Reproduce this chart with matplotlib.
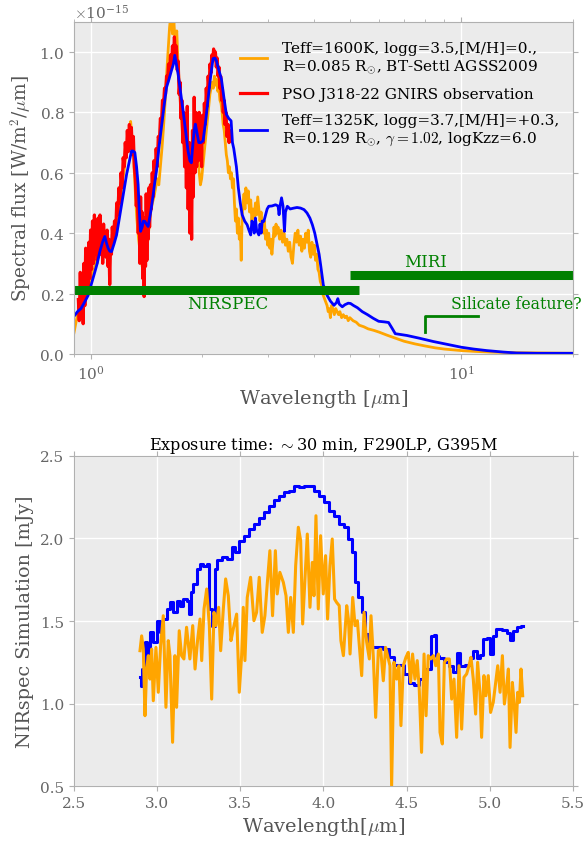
import matplotlib
matplotlib.use("Agg")
import matplotlib.pyplot as plt
import numpy as np

plt.rcParams['font.family'] = ['DejaVu Serif']
plt.rcParams['mathtext.fontset'] = 'cm'

# ---- top panel: spectra (flux in 1e-15 W/m2/um) ----
red_wl = [0.925, 0.930, 0.936, 0.942, 0.948, 0.953, 0.958, 0.963, 0.968, 0.973, 0.978, 0.983, 0.988, 0.993, 0.998,
          1.004, 1.010, 1.016, 1.022, 1.028, 1.034, 1.040, 1.046, 1.052, 1.058, 1.064, 1.070, 1.076, 1.082, 1.088,
          1.094, 1.100, 1.106, 1.112, 1.118, 1.124, 1.130, 1.136, 1.142, 1.150, 1.158, 1.166, 1.174, 1.182, 1.190,
          1.198, 1.206, 1.214, 1.222, 1.230, 1.238, 1.246, 1.254, 1.262, 1.270, 1.278, 1.286, 1.294, 1.302, 1.310,
          1.318, 1.326, 1.334, 1.342, 1.350, 1.356, 1.362, 1.368, 1.374, 1.380, 1.386, 1.392, 1.398, 1.404, 1.410,
          1.416, 1.422, 1.428, 1.434, 1.440, 1.448, 1.456, 1.464, 1.472, 1.480, 1.490, 1.500, 1.510, 1.520, 1.530,
          1.540, 1.550, 1.560, 1.570, 1.580, 1.590, 1.600, 1.610, 1.620, 1.630, 1.640, 1.650, 1.660, 1.670, 1.680,
          1.690, 1.700, 1.710, 1.720, 1.730, 1.740, 1.750, 1.760, 1.770, 1.780, 1.790, 1.800, 1.810, 1.820, 1.830,
          1.840, 1.850, 1.860, 1.870, 1.880, 1.890, 1.900, 1.910, 1.920, 1.930, 1.940, 1.950, 1.960, 1.970, 1.980,
          1.990, 2.000, 2.012, 2.024, 2.036, 2.048, 2.060, 2.072, 2.084, 2.096, 2.108, 2.120, 2.132, 2.144, 2.156,
          2.168, 2.180, 2.192, 2.204, 2.216, 2.228, 2.240, 2.252, 2.264, 2.276, 2.288, 2.300, 2.315, 2.330, 2.345,
          2.360, 2.375, 2.390]
red_flux = [0.18, 0.11, 0.27, 0.12, 0.24, 0.10, 0.30, 0.16, 0.35, 0.20, 0.31, 0.22, 0.37, 0.25, 0.41,
            0.28, 0.44, 0.30, 0.46, 0.33, 0.43, 0.31, 0.45, 0.35, 0.46, 0.33, 0.41, 0.30, 0.43, 0.36,
            0.40, 0.32, 0.41, 0.29, 0.38, 0.23, 0.37, 0.33, 0.42, 0.37, 0.44, 0.40, 0.50, 0.46, 0.55,
            0.50, 0.60, 0.55, 0.65, 0.62, 0.70, 0.65, 0.74, 0.67, 0.76, 0.68, 0.75, 0.66, 0.72, 0.62,
            0.58, 0.49, 0.54, 0.40, 0.48, 0.30, 0.52, 0.35, 0.47, 0.25, 0.40, 0.19, 0.45, 0.29, 0.53,
            0.31, 0.50, 0.38, 0.55, 0.42, 0.56, 0.48, 0.60, 0.52, 0.64, 0.58, 0.68, 0.62, 0.72, 0.70,
            0.78, 0.76, 0.84, 0.82, 0.88, 0.86, 0.92, 0.90, 0.96, 0.93, 0.99, 0.95, 1.02, 0.97, 1.05,
            0.99, 1.02, 0.94, 0.97, 0.86, 0.90, 0.78, 0.84, 0.70, 0.80, 0.62, 0.76, 0.55, 0.82, 0.48,
            0.70, 0.40, 0.66, 0.38, 0.74, 0.52, 0.85, 0.60, 0.80, 0.62, 0.76, 0.64, 0.80, 0.66, 0.74,
            0.62, 0.79, 0.70, 0.83, 0.76, 0.88, 0.82, 0.92, 0.88, 0.96, 0.93, 0.99, 0.97, 1.01, 0.98,
            1.00, 0.95, 0.98, 0.92, 0.95, 0.88, 0.92, 0.84, 0.88, 0.80, 0.84, 0.76, 0.80, 0.72, 0.76,
            0.70, 0.74, 0.72]

orange_wl = [0.900, 0.910, 0.920, 0.930, 0.940, 0.950, 0.960, 0.970, 0.980, 0.990, 1.000, 1.010, 1.020, 1.030,
             1.040, 1.050, 1.060, 1.070, 1.080, 1.090, 1.100, 1.110, 1.120, 1.130, 1.140, 1.150, 1.160, 1.170,
             1.180, 1.190, 1.200, 1.210, 1.220, 1.230, 1.240, 1.250, 1.260, 1.270, 1.280, 1.290, 1.300, 1.310,
             1.320, 1.330, 1.345, 1.360, 1.375, 1.390, 1.405, 1.420, 1.435, 1.450, 1.465, 1.480, 1.495, 1.510,
             1.525, 1.540, 1.555, 1.570, 1.585, 1.600, 1.615, 1.630, 1.645, 1.660, 1.675, 1.690, 1.705, 1.720,
             1.735, 1.750, 1.765, 1.780, 1.795, 1.810, 1.825, 1.840, 1.855, 1.870, 1.885, 1.900, 1.915, 1.930,
             1.945, 1.960, 1.975, 1.990, 2.005, 2.020, 2.035, 2.050, 2.065, 2.080, 2.095, 2.110, 2.125, 2.140,
             2.155, 2.170, 2.185, 2.200, 2.215, 2.230, 2.245, 2.260, 2.275, 2.290, 2.305, 2.320, 2.335, 2.350,
             2.365, 2.380, 2.395, 2.410, 2.425, 2.440, 2.455, 2.470, 2.485, 2.500, 2.515, 2.530, 2.545, 2.560,
             2.575, 2.590, 2.605, 2.620, 2.640, 2.660, 2.680, 2.700, 2.720, 2.740, 2.760, 2.780, 2.800, 2.820,
             2.840, 2.860, 2.880, 2.900, 2.920, 2.940, 2.960, 2.980, 3.000, 3.020, 3.040, 3.060, 3.080, 3.100,
             3.120, 3.140, 3.160, 3.180, 3.200, 3.230, 3.260, 3.290, 3.320, 3.350, 3.380, 3.410, 3.440, 3.470,
             3.500, 3.530, 3.560, 3.590, 3.620, 3.650, 3.680, 3.710, 3.740, 3.770, 3.800, 3.830, 3.860, 3.890,
             3.920, 3.950, 3.980, 4.010, 4.040, 4.070, 4.100, 4.130, 4.160, 4.190, 4.220, 4.250, 4.280, 4.310,
             4.340, 4.370, 4.400, 4.430, 4.460, 4.500, 4.540, 4.580, 4.620, 4.660, 4.700, 4.750, 4.800, 4.850,
             4.900, 4.950, 5.000, 5.100, 5.200, 5.300, 5.450, 5.600, 5.800, 6.000, 6.300, 6.600, 7.000, 7.500,
             8.000, 8.500, 9.000, 10.00, 11.00, 12.00, 14.00, 17.00, 20.00]
orange_flux = [0.07, 0.10, 0.13, 0.12, 0.15, 0.17, 0.16, 0.21, 0.20, 0.25, 0.24, 0.28, 0.27, 0.31,
               0.30, 0.34, 0.33, 0.36, 0.34, 0.37, 0.34, 0.33, 0.36, 0.34, 0.37, 0.38, 0.41, 0.40,
               0.45, 0.47, 0.51, 0.53, 0.58, 0.61, 0.65, 0.68, 0.72, 0.74, 0.77, 0.72, 0.68, 0.60,
               0.52, 0.45, 0.38, 0.33, 0.29, 0.28, 0.31, 0.36, 0.42, 0.47, 0.50, 0.52, 0.55, 0.58,
               0.56, 0.62, 0.68, 0.75, 0.83, 0.92, 1.00, 1.08, 1.13, 1.06, 1.10, 1.02, 1.07, 0.95,
               0.88, 0.80, 0.74, 0.70, 0.66, 0.72, 0.68, 0.64, 0.70, 0.66, 0.62, 0.68, 0.64, 0.70,
               0.66, 0.60, 0.56, 0.58, 0.62, 0.66, 0.70, 0.74, 0.78, 0.82, 0.86, 0.88, 0.90, 0.88,
               0.92, 0.89, 0.91, 0.87, 0.88, 0.84, 0.83, 0.80, 0.76, 0.74, 0.70, 0.66, 0.64, 0.60,
               0.62, 0.58, 0.60, 0.55, 0.58, 0.50, 0.44, 0.48, 0.40, 0.45, 0.38, 0.42, 0.31, 0.46,
               0.50, 0.53, 0.48, 0.55, 0.50, 0.54, 0.47, 0.51, 0.44, 0.48, 0.45, 0.50, 0.46, 0.52,
               0.48, 0.44, 0.47, 0.43, 0.40, 0.44, 0.38, 0.41, 0.36, 0.40, 0.35, 0.38, 0.33, 0.37,
               0.42, 0.39, 0.43, 0.40, 0.42, 0.38, 0.41, 0.37, 0.40, 0.36, 0.38, 0.34, 0.37, 0.32,
               0.30, 0.36, 0.40, 0.37, 0.41, 0.36, 0.39, 0.34, 0.38, 0.35, 0.40, 0.37, 0.41, 0.34,
               0.32, 0.37, 0.33, 0.36, 0.31, 0.33, 0.28, 0.27, 0.24, 0.23, 0.20, 0.19, 0.18, 0.17,
               0.16, 0.14, 0.15, 0.12, 0.16, 0.15, 0.13, 0.15, 0.14, 0.13, 0.14, 0.12, 0.13, 0.12,
               0.125, 0.11, 0.12, 0.11, 0.105, 0.095, 0.09, 0.083, 0.078, 0.072, 0.062, 0.053, 0.042, 0.033,
               0.026, 0.020, 0.016, 0.011, 0.008, 0.006, 0.004, 0.003, 0.002]

blue_wl = [0.900, 0.905, 0.920, 0.940, 0.960, 0.983, 1.005, 1.025, 1.040, 1.057, 1.075, 1.090, 1.100, 1.113,
           1.125, 1.137, 1.155, 1.173, 1.190, 1.210, 1.230, 1.248, 1.268, 1.287, 1.300, 1.314, 1.328, 1.341,
           1.350, 1.361, 1.375, 1.385, 1.398, 1.412, 1.427, 1.450, 1.473, 1.488, 1.503, 1.525, 1.550, 1.575,
           1.600, 1.625, 1.650, 1.670, 1.684, 1.700, 1.719, 1.745, 1.773, 1.800, 1.829, 1.850, 1.867, 1.880,
           1.900, 1.914, 1.935, 1.955, 1.980, 2.008, 2.040, 2.070, 2.100, 2.136, 2.160, 2.180, 2.215, 2.250,
           2.285, 2.320, 2.355, 2.390, 2.410, 2.430, 2.470, 2.500, 2.530, 2.560, 2.600, 2.640, 2.670, 2.700,
           2.720, 2.740, 2.760, 2.780, 2.800, 2.840, 2.860, 2.880, 2.900, 2.930, 2.960, 2.990, 3.020, 3.080,
           3.150, 3.200, 3.220, 3.240, 3.270, 3.300, 3.330, 3.350, 3.390, 3.450, 3.530, 3.600, 3.680, 3.760,
           3.830, 3.900, 3.960, 4.020, 4.080, 4.130, 4.170, 4.240, 4.340, 4.430, 4.530, 4.600, 4.640, 4.680,
           4.770, 4.850, 4.950, 5.020, 5.120, 5.240, 5.400, 5.580, 5.780, 5.980, 6.200, 6.360, 6.500, 6.630,
           7.130, 7.700, 8.400, 9.200, 10.00, 10.80, 11.70, 13.00, 14.10, 16.00, 20.00]
blue_flux = [0.125, 0.128, 0.14, 0.15, 0.17, 0.194, 0.235, 0.272, 0.30, 0.339, 0.37, 0.389, 0.37, 0.35,
             0.34, 0.339, 0.365, 0.394, 0.44, 0.494, 0.545, 0.594, 0.635, 0.672, 0.672, 0.667, 0.62, 0.561,
             0.48, 0.406, 0.42, 0.44, 0.439, 0.43, 0.422, 0.47, 0.528, 0.57, 0.606, 0.68, 0.75, 0.82,
             0.883, 0.91, 0.939, 0.96, 0.989, 0.96, 0.928, 0.87, 0.806, 0.74, 0.672, 0.64, 0.633, 0.68,
             0.74, 0.761, 0.73, 0.70, 0.70, 0.706, 0.77, 0.839, 0.91, 0.978, 0.98, 0.972, 0.94, 0.911,
             0.85, 0.794, 0.78, 0.772, 0.70, 0.68, 0.62, 0.55, 0.50, 0.461, 0.44, 0.428, 0.41, 0.394,
             0.44, 0.43, 0.40, 0.45, 0.41, 0.394, 0.43, 0.40, 0.44, 0.439, 0.46, 0.48, 0.489, 0.49,
             0.494, 0.49, 0.461, 0.49, 0.517, 0.49, 0.406, 0.47, 0.489, 0.48, 0.483, 0.485, 0.483, 0.478,
             0.467, 0.45, 0.428, 0.40, 0.361, 0.33, 0.294, 0.228, 0.194, 0.175, 0.161, 0.17, 0.183, 0.165,
             0.156, 0.163, 0.168, 0.167, 0.16, 0.153, 0.14, 0.13, 0.118, 0.108, 0.106, 0.104, 0.085, 0.067,
             0.061, 0.052, 0.041, 0.031, 0.022, 0.016, 0.011, 0.006, 0.003, 0.002, 0.002]

# instrument coverage (um) and label heights (1e-15 units)
nirspec_range = [0.6, 5.3]
nirspec_level = 0.213
miri_range = [5.0, 28.0]
miri_level = 0.262
silicate_wl = [8.0, 8.0, 11.1]
silicate_level = [0.073, 0.127, 0.127]

# ---- bottom panel: NIRSpec simulation (mJy) ----
sim_blue_wl = [2.897, 2.907, 2.917, 2.933, 2.947, 2.967, 2.987, 3.007, 3.027, 3.047, 3.067, 3.087, 3.107, 3.127,
               3.147, 3.167, 3.187, 3.197, 3.207, 3.227, 3.248, 3.268, 3.288, 3.308, 3.318, 3.338, 3.354, 3.368,
               3.408, 3.438, 3.458, 3.478, 3.508, 3.538, 3.568, 3.598, 3.628, 3.658, 3.689, 3.719, 3.749, 3.779,
               3.809, 3.839, 3.869, 3.899, 3.929, 3.959, 3.989, 4.019, 4.049, 4.079, 4.109, 4.139, 4.159, 4.180,
               4.200, 4.220, 4.240, 4.260, 4.280, 4.300, 4.340, 4.380, 4.410, 4.440, 4.470, 4.500, 4.530, 4.560,
               4.590, 4.625, 4.645, 4.653, 4.671, 4.681, 4.711, 4.741, 4.771, 4.791, 4.811, 4.831, 4.871, 4.891,
               4.911, 4.931, 4.951, 4.971, 4.997, 5.011, 5.025, 5.052, 5.092, 5.112, 5.132, 5.152, 5.172, 5.202]
sim_blue_mjy = [1.159, 1.108, 1.209, 1.371, 1.209, 1.431, 1.371, 1.502, 1.431, 1.512, 1.573, 1.613, 1.552, 1.623,
                1.593, 1.633, 1.623, 1.542, 1.674, 1.724, 1.815, 1.845, 1.835, 1.845, 1.573, 1.472, 1.815, 1.872,
                1.886, 1.876, 1.946, 1.916, 1.987, 2.017, 2.058, 2.088, 2.122, 2.159, 2.199, 2.235, 2.260, 2.280,
                2.290, 2.316, 2.310, 2.316, 2.320, 2.290, 2.260, 2.219, 2.169, 2.138, 2.088, 2.068, 1.997, 1.916,
                1.734, 1.643, 1.553, 1.421, 1.381, 1.340, 1.340, 1.330, 1.280, 1.233, 1.233, 1.179, 1.124, 1.112,
                1.148, 1.209, 1.209, 1.411, 1.415, 1.290, 1.274, 1.250, 1.229, 1.189, 1.306, 1.229, 1.233, 1.274,
                1.320, 1.274, 1.294, 1.391, 1.395, 1.300, 1.407, 1.451, 1.447, 1.427, 1.387, 1.441, 1.462, 1.468]

sim_orange_wl = [2.897, 2.907, 2.917, 2.927, 2.937, 2.947, 2.957, 2.967, 2.977, 2.993, 3.007, 3.021, 3.037, 3.053,
                 3.067, 3.077, 3.093, 3.107, 3.117, 3.133, 3.147, 3.161, 3.177, 3.197, 3.214, 3.228, 3.244, 3.258,
                 3.268, 3.282, 3.298, 3.314, 3.328, 3.342, 3.354, 3.370, 3.382, 3.398, 3.412, 3.428, 3.444, 3.458,
                 3.478, 3.494, 3.508, 3.518, 3.528, 3.542, 3.562, 3.582, 3.598, 3.614, 3.632, 3.648, 3.662, 3.678,
                 3.694, 3.711, 3.722, 3.738, 3.759, 3.775, 3.789, 3.803, 3.819, 3.833, 3.849, 3.863, 3.875, 3.889,
                 3.903, 3.919, 3.933, 3.943, 3.955, 3.969, 3.983, 3.999, 4.013, 4.025, 4.039, 4.053, 4.067, 4.079,
                 4.095, 4.105, 4.120, 4.140, 4.150, 4.160, 4.176, 4.190, 4.204, 4.216, 4.230, 4.244, 4.260, 4.276,
                 4.286, 4.300, 4.314, 4.330, 4.344, 4.360, 4.374, 4.390, 4.400, 4.410, 4.424, 4.440, 4.454, 4.466,
                 4.480, 4.496, 4.510, 4.524, 4.536, 4.550, 4.564, 4.576, 4.590, 4.605, 4.617, 4.630, 4.645, 4.661,
                 4.675, 4.691, 4.701, 4.715, 4.727, 4.741, 4.757, 4.771, 4.785, 4.801, 4.815, 4.831, 4.845, 4.861,
                 4.875, 4.887, 4.901, 4.915, 4.927, 4.941, 4.951, 4.965, 4.977, 4.991, 5.005, 5.021, 5.036, 5.048,
                 5.062, 5.076, 5.088, 5.102, 5.112, 5.122, 5.136, 5.146, 5.158, 5.168, 5.178, 5.188, 5.198]
sim_orange_mjy = [1.32, 1.41, 1.33, 0.926, 1.209, 1.29, 1.148, 1.33, 1.017, 1.34, 1.068, 1.35, 1.532, 0.977,
                  1.381, 1.29, 0.765, 1.29, 0.977, 1.441, 1.29, 1.27, 1.462, 1.27, 1.472, 1.209, 1.391, 1.512,
                  1.26, 1.573, 1.694, 1.472, 1.027, 1.552, 1.472, 1.583, 1.32, 1.573, 1.755, 1.653, 1.381, 1.452,
                  1.542, 1.068, 1.29, 1.583, 1.26, 1.643, 1.765, 1.502, 1.552, 1.765, 1.431, 1.532, 1.724, 1.926,
                  1.532, 1.926, 1.664, 1.795, 1.734, 1.653, 1.431, 1.643, 1.431, 1.835, 2.068, 1.987, 1.482, 1.755,
                  2.027, 1.583, 1.855, 1.653, 2.138, 1.573, 2.017, 1.664, 1.896, 1.512, 1.835, 1.997, 1.633, 1.613,
                  1.593, 1.381, 1.29, 1.593, 1.512, 1.30, 1.643, 1.472, 1.502, 1.35, 1.169, 1.553, 1.371, 1.27,
                  1.532, 1.28, 0.916, 1.32, 1.33, 1.138, 1.34, 1.27, 1.229, 0.502, 1.25, 1.148, 1.229, 0.866,
                  1.229, 1.28, 1.31, 1.128, 1.30, 1.148, 1.26, 1.088, 0.704, 1.30, 0.926, 1.29, 1.27, 1.29,
                  1.229, 1.30, 0.825, 0.755, 1.25, 1.27, 1.27, 1.027, 1.148, 0.795, 1.229, 0.845, 1.159, 1.179,
                  1.229, 1.28, 1.148, 0.936, 1.25, 1.068, 0.795, 1.169, 1.047, 1.169, 0.946, 1.007, 1.128, 1.229,
                  1.068, 1.29, 0.997, 1.108, 1.209, 0.734, 1.128, 1.007, 0.825, 1.068, 1.007, 1.209, 1.047]

bg = '#ebebeb'
spine_c = '#b0b0b0'
label_c = '#555555'

fig = plt.figure(figsize=(5.87, 8.45), dpi=100)
ax1 = fig.add_axes([0.126, 0.580, 0.850, 0.393])
ax2 = fig.add_axes([0.126, 0.0686, 0.850, 0.3906])

for ax in (ax1, ax2):
    ax.set_facecolor(bg)
    ax.grid(True, color='white', linewidth=1.0)
    ax.set_axisbelow(True)
    for s in ax.spines.values():
        s.set_color(spine_c)
    ax.tick_params(which='both', direction='out', top=True, right=True,
                   color=spine_c, labelcolor='#666666', labelsize=11)

scale = 1e-15
ax1.plot(orange_wl, np.array(orange_flux) * scale, color='orange', lw=2.0,
         label='Teff=1600K, logg=3.5,[M/H]=0.,\nR=0.085 R$_{\\odot}$, BT-Settl AGSS2009')
ax1.plot(red_wl, np.array(red_flux) * scale, color='red', lw=2.3,
         label='PSO J318-22 GNIRS observation')
ax1.plot(blue_wl, np.array(blue_flux) * scale, color='blue', lw=2.0,
         label='Teff=1325K, logg=3.7,[M/H]=+0.3,\nR=0.129 R$_{\\odot}$, $\\gamma=1.02$, logKzz=6.0')

ax1.plot(nirspec_range, [nirspec_level * scale] * 2, color='green', lw=6.5, solid_capstyle='butt')
ax1.plot(miri_range, [miri_level * scale] * 2, color='green', lw=6.5, solid_capstyle='butt')
ax1.plot(silicate_wl, np.array(silicate_level) * scale, color='green', lw=2.0)
ax1.text(2.34, 0.167 * scale, 'NIRSPEC', color='green', fontsize=12, ha='center', va='center')
ax1.text(8.0, 0.307 * scale, 'MIRI', color='green', fontsize=12, ha='center', va='center')
ax1.text(9.35, 0.167 * scale, 'Silicate feature?', color='green', fontsize=11.3, ha='left', va='center')

ax1.set_xscale('log')
ax1.set_xlim(0.9, 20)
ax1.set_ylim(0, 1.1e-15)
ax1.set_yticks(np.arange(0, 1.01, 0.2) * scale)
ax1.ticklabel_format(axis='y', style='sci', useMathText=True)
ax1.yaxis.get_offset_text().set_color('#666666')
ax1.yaxis.get_offset_text().set_fontsize(11)
ax1.set_xlabel('Wavelength [$\\mu$m]', fontsize=14, color=label_c)
ax1.set_ylabel('Spectral flux [W/m$^2$/$\\mu$m]', fontsize=13.3, color=label_c)
leg = ax1.legend(loc='upper right', bbox_to_anchor=(0.995, 0.975), frameon=False, fontsize=11.0,
                 handlelength=1.75, labelspacing=0.8, handletextpad=1.0, borderaxespad=0.3)

ax2.plot(sim_blue_wl, sim_blue_mjy, color='blue', lw=2.2, drawstyle='steps-mid')
ax2.plot(sim_orange_wl, sim_orange_mjy, color='orange', lw=2.2)
ax2.set_xlim(2.5, 5.5)
ax2.set_ylim(0.5, 2.5)
ax2.set_xticks(np.arange(2.5, 5.51, 0.5))
ax2.set_yticks(np.arange(0.5, 2.51, 0.5))
ax2.set_title('Exposure time: $\\sim$30 min, F290LP, G395M', fontsize=11.6, color='black', pad=5)
ax2.set_xlabel('Wavelength[$\\mu$m]', fontsize=14, color=label_c)
ax2.set_ylabel('NIRspec Simulation [mJy]', fontsize=13.8, color=label_c)

fig.savefig('out.png', dpi=100)
